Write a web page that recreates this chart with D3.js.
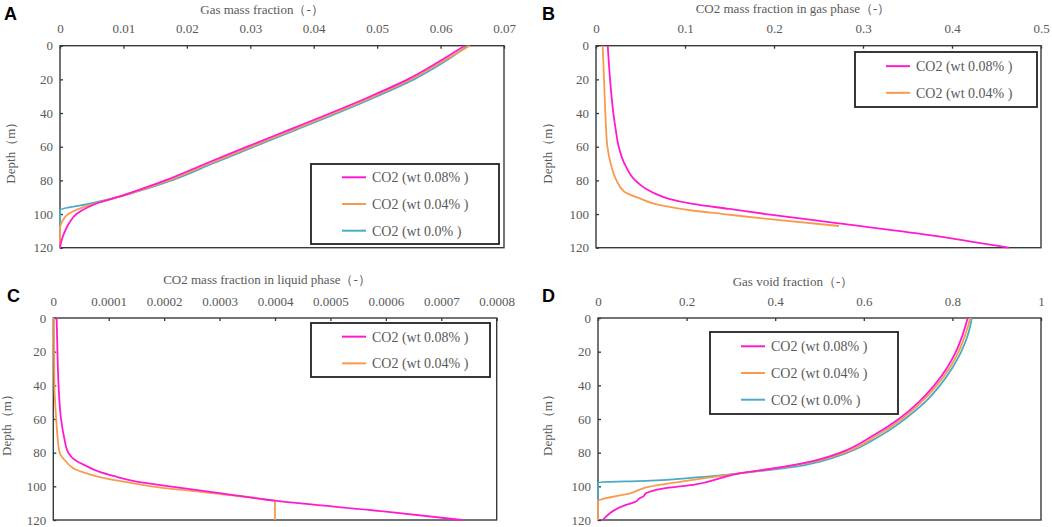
<!DOCTYPE html>
<html>
<head>
<meta charset="utf-8">
<script src="https://cdn.jsdelivr.net/npm/d3@7"></script>
<style>
  body { margin: 0; background: #fff; }
  svg { display: block; }
  text { font-family: "Liberation Serif", "Times New Roman", serif; fill: #595959; }
  .letter { font-family: "Liberation Sans", Arial, sans-serif; font-weight: bold; fill: #000; }
</style>
</head>
<body>
<svg id="chart" width="1052" height="527"></svg>
<script>
// series names and colours
const seriesNames = ["CO2 (wt 0.08% )", "CO2 (wt 0.04% )", "CO2 (wt 0.0% )"];
const seriesColors = ["#ff1ad1", "#f99a4e", "#4aabc4"];

// tick values
const depthTicks = [0, 20, 40, 60, 80, 100, 120];
const ticksA = [0, 0.01, 0.02, 0.03, 0.04, 0.05, 0.06, 0.07];
const ticksB = [0, 0.1, 0.2, 0.3, 0.4, 0.5];
const ticksC = [0, 0.0001, 0.0002, 0.0003, 0.0004, 0.0005, 0.0006, 0.0007, 0.0008];
const ticksD = [0, 0.2, 0.4, 0.6, 0.8, 1];

// A: gas mass fraction
const depthA08 = [0, 10, 20, 30, 40, 50, 60, 70, 80, 85, 90, 93, 96, 100, 105, 110, 115, 120];
const gasA08 = [0.0638, 0.0595, 0.0548, 0.0490, 0.0427, 0.0361, 0.0295, 0.0230, 0.0166, 0.0129, 0.0090, 0.0063, 0.0044, 0.0026, 0.0015, 0.0008, 0.0003, 0];
const depthA04 = [0, 10, 20, 30, 40, 50, 60, 70, 80, 85, 90, 93, 96, 100, 104, 108.5, 120];
const gasA04 = [0.0646, 0.0600, 0.0553, 0.0495, 0.0433, 0.0367, 0.0301, 0.0236, 0.0171, 0.0133, 0.0091, 0.0062, 0.0036, 0.0013, 0.0004, 0, 0];
const depthA00 = [0, 10, 20, 30, 40, 50, 60, 70, 80, 85, 90, 94, 97.6, 120];
const gasA00 = [0.0643, 0.0604, 0.0558, 0.0500, 0.0438, 0.0372, 0.0306, 0.0241, 0.0176, 0.0136, 0.0091, 0.0045, 0, 0];

// B: CO2 mass fraction in gas phase
const depthB08 = [0, 20, 40, 50, 60, 70, 80, 85, 88, 91, 94, 97, 100, 105.5, 112.5, 120];
const co2GasB08 = [0.0132, 0.0158, 0.0195, 0.0222, 0.0255, 0.032, 0.044, 0.056, 0.067, 0.082, 0.1086, 0.15, 0.191, 0.273, 0.3745, 0.464];
const depthB04 = [0, 20, 40, 60, 70, 80, 86.7, 91, 93.6, 95, 98.2, 100, 102.6, 107.1];
const co2GasB04 = [0.0075, 0.009, 0.0105, 0.0128, 0.0165, 0.023, 0.0318, 0.0506, 0.064, 0.075, 0.112, 0.143, 0.187, 0.273];

// C: CO2 mass fraction in liquid phase
const depthC08 = [0, 20, 40, 60, 70, 80, 85, 88, 91, 94, 97, 100, 104, 108.7, 115, 120];
const co2LiqC08 = [0.000006, 0.0000075, 0.0000095, 0.000014, 0.000019, 0.000027, 0.000042, 0.00006, 0.00008, 0.00011, 0.000148, 0.00021, 0.0003, 0.000403, 0.0006, 0.000738];
const depthC04 = [0, 20, 40, 60, 70, 80, 85, 88, 90, 92.5, 95, 98, 100.2, 104.5, 109.3, 120];
const co2LiqC04 = [0.0000012, 0.0000015, 0.000002, 0.0000052, 0.0000075, 0.0000114, 0.000022, 0.000031, 0.00004, 0.000062, 0.00009, 0.00014, 0.00018, 0.0003, 0.0004, 0.0004];

// D: gas void fraction
const depthD08 = [0, 10, 20, 30, 40, 50, 60, 70, 80, 85, 90, 92.3, 95, 98.8, 101.3, 104, 105.8, 107.5, 109, 111, 120];
const voidD08 = [0.8346, 0.823, 0.808, 0.787, 0.759, 0.724, 0.679, 0.620, 0.547, 0.485, 0.380, 0.319, 0.278, 0.221, 0.146, 0.109, 0.103, 0.092, 0.086, 0.063, 0.0105];
const depthD04 = [0, 10, 20, 30, 40, 50, 60, 70, 80, 85, 90, 92.3, 95, 97.3, 100.2, 102.6, 104, 105.8, 108.7, 120];
const voidD04 = [0.8406, 0.829, 0.814, 0.793, 0.765, 0.730, 0.686, 0.628, 0.556, 0.492, 0.383, 0.319, 0.245, 0.184, 0.116, 0.088, 0.075, 0.0406, 0, 0];
const depthD00 = [0, 10, 20, 30, 40, 50, 60, 70, 80, 85, 88.3, 90.5, 92.3, 94.7, 96.7, 97.6, 120];
const voidD00 = [0.844, 0.835, 0.820, 0.799, 0.772, 0.738, 0.693, 0.637, 0.563, 0.505, 0.447, 0.38, 0.319, 0.221, 0.108, 0, 0];

const svg = d3.select("#chart");

const panels = [
  { letter: "A", lx: 4, ly: 20, title: "Gas mass fraction（-）", tx: 262, ty: 14,
    box: [60, 45.7, 504, 247.7], xmax: 0.07, ticks: ticksA, ylx: 15,
    series: [[depthA08, gasA08], [depthA04, gasA04], [depthA00, gasA00]],
    legend: [311, 164, 188, 80] },
  { letter: "B", lx: 542, ly: 20, title: "CO2 mass fraction in gas phase（-）", tx: 793, ty: 13,
    box: [596, 45.7, 1041, 247.7], xmax: 0.5, ticks: ticksB, ylx: 552,
    series: [[depthB08, co2GasB08], [depthB04, co2GasB04]],
    legend: [855, 52, 182, 55] },
  { letter: "C", lx: 7, ly: 302, title: "CO2 mass fraction in liquid phase（-）", tx: 267, ty: 284,
    box: [53.3, 318, 496.7, 520], xmax: 0.0008, ticks: ticksC, ylx: 11,
    series: [[depthC08, co2LiqC08], [depthC04, co2LiqC04]],
    legend: [311, 323, 179, 54] },
  { letter: "D", lx: 542, ly: 302, title: "Gas void fraction（-）", tx: 793, ty: 286,
    box: [598, 318, 1041, 520], xmax: 1, ticks: ticksD, ylx: 552,
    series: [[depthD08, voidD08], [depthD04, voidD04], [depthD00, voidD00]],
    legend: [710, 332, 188, 82] }
];

panels.forEach(p => {
  const [x0, y0, x1, y1] = p.box;
  const x = d3.scaleLinear().domain([0, p.xmax]).range([x0, x1]);
  const y = d3.scaleLinear().domain([0, 120]).range([y0, y1]);
  const g = svg.append("g");

  // top axis with inward ticks
  g.append("g")
    .attr("transform", `translate(0,${y0})`)
    .call(d3.axisTop(x).tickValues(p.ticks).tickFormat(d => String(d))
      .tickSizeInner(-3).tickSizeOuter(0).tickPadding(12.5))
    .call(a => a.select(".domain").remove())
    .call(a => a.selectAll("line").attr("stroke", "#333").attr("stroke-width", 1.3))
    .call(a => a.selectAll("text").attr("font-size", 13).attr("fill", "#595959")
      .attr("font-family", "Liberation Serif"));

  // left axis
  g.append("g")
    .attr("transform", `translate(${x0},0)`)
    .call(d3.axisLeft(y).tickValues(depthTicks)
      .tickSizeInner(-3).tickSizeOuter(0).tickPadding(7))
    .call(a => a.select(".domain").remove())
    .call(a => a.selectAll("line").attr("stroke", "#333").attr("stroke-width", 1.3))
    .call(a => a.selectAll("text").attr("font-size", 13).attr("fill", "#595959")
      .attr("font-family", "Liberation Serif"));

  // plot frame
  g.append("rect")
    .attr("x", x0).attr("y", y0)
    .attr("width", x1 - x0).attr("height", y1 - y0)
    .attr("fill", "none").attr("stroke", "#3a3a3a").attr("stroke-width", 1.4);

  const line = d3.line()
    .x(d => x(d[1]))
    .y(d => y(d[0]))
    .curve(d3.curveMonotoneY);

  // draw from last series to first so magenta lies on top
  p.series.slice().reverse().forEach((s, ri) => {
    const i = p.series.length - 1 - ri;
    g.append("path")
      .datum(d3.zip(s[0], s[1]))
      .attr("d", line)
      .attr("fill", "none")
      .attr("stroke", seriesColors[i])
      .attr("stroke-width", 1.8);
  });

  // titles and labels
  g.append("text").attr("class", "letter")
    .attr("x", p.lx).attr("y", p.ly).attr("font-size", 18).text(p.letter);
  g.append("text")
    .attr("x", p.tx).attr("y", p.ty).attr("text-anchor", "middle")
    .attr("font-size", 13).text(p.title);
  g.append("text")
    .attr("transform", `translate(${p.ylx},${(y0 + y1) / 2 + 3}) rotate(-90)`)
    .attr("text-anchor", "middle").attr("font-size", 13)
    .text("Depth（m）");

  // legend
  const [lx, ly, lw, lh] = p.legend;
  const lg = g.append("g").attr("transform", `translate(${lx},${ly})`);
  lg.append("rect").attr("width", lw).attr("height", lh)
    .attr("fill", "#fff").attr("stroke", "#222").attr("stroke-width", 1.8);
  const rowGap = 26.7;
  const top = (lh - rowGap * (p.series.length - 1)) / 2;
  p.series.forEach((s, i) => {
    const ry = top + i * rowGap;
    lg.append("line")
      .attr("x1", 31).attr("x2", 55).attr("y1", ry).attr("y2", ry)
      .attr("stroke", seriesColors[i]).attr("stroke-width", 2);
    lg.append("text")
      .attr("x", 61).attr("y", ry).attr("dy", "0.35em")
      .attr("font-size", 14).text(seriesNames[i]);
  });
});
</script>
</body>
</html>
